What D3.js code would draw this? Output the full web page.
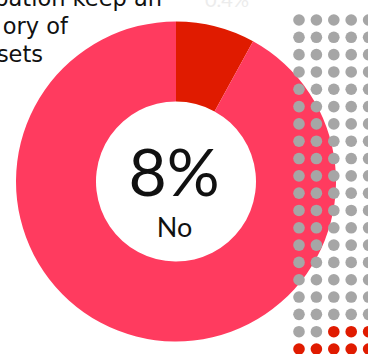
<!DOCTYPE html>
<html>
<head>
<meta charset="utf-8">
<script src="https://cdn.jsdelivr.net/npm/d3@7"></script>
<style>
  html, body { margin: 0; padding: 0; background: #ffffff; overflow: hidden; }
  svg { display: block; }
</style>
</head>
<body>
<svg id="chart" width="368" height="354"></svg>
<script>
// Share of answers
const answerLabels = ["No", "Yes"];
const answerShares = [8, 92];
const answerColors = ["#e01b00", "#ff3b5f"];

// Title lines (the block runs off the left edge)
const titleLines = ["pation keep an", "ory of", "sets"];
const faintLabel = "0.4%";

// Dot grid
const gridCols = 6;
const gridRows = 20;
const dotColors = ["#a6a6a6", "#e01b00"];

const svg = d3.select("#chart");

// ---- title block ----
const titleEnds = [162, 68, 43];
svg.append("g")
  .selectAll("text")
  .data(titleLines)
  .join("text")
  .attr("x", (d, i) => titleEnds[i])
  .attr("y", (d, i) => 6 + i * 28)
  .attr("text-anchor", "end")
  .style("font-family", "'DejaVu Sans', sans-serif")
  .style("font-size", "22.5px")
  .style("fill", "#111111")
  .text(d => d);

svg.append("text")
  .attr("x", 227)
  .attr("y", 7)
  .attr("text-anchor", "middle")
  .style("font-family", "Lato, sans-serif")
  .style("font-size", "20px")
  .style("fill", "#ececec")
  .text(faintLabel);

// ---- donut ----
const cx = 176, cy = 181.5;
const outerR = 160, innerR = 80;

const pie = d3.pie().sort(null).value(d => d);
const arc = d3.arc().innerRadius(innerR).outerRadius(outerR);
const color = d3.scaleOrdinal().domain(answerLabels).range(answerColors);

const donut = svg.append("g").attr("transform", `translate(${cx},${cy})`);
donut.selectAll("path")
  .data(pie(answerShares))
  .join("path")
  .attr("d", arc)
  .attr("fill", (d, i) => color(answerLabels[i]));

donut.append("text")
  .attr("x", -2)
  .attr("y", 14.5)
  .attr("text-anchor", "middle")
  .style("font-family", "Lato, sans-serif")
  .style("font-size", "66px")
  .style("fill", "#111111")
  .text(`${answerShares[0]}%`);

donut.append("text")
  .attr("x", -1.5)
  .attr("y", 55.5)
  .attr("text-anchor", "middle")
  .style("font-family", "Lato, sans-serif")
  .style("font-size", "27px")
  .style("fill", "#111111")
  .text(answerLabels[0]);

// ---- dot grid: highlighted dots fill from the bottom-right ----
const total = gridCols * gridRows;
const redCount = Math.round(total * answerShares[0] / 100);
const dots = d3.range(total).map(i => {
  const row = Math.floor(i / gridCols);
  const col = i % gridCols;
  const fromEnd = total - 1 - (row * gridCols + col);
  return { row, col, hit: fromEnd < redCount };
});

const xDot = d3.scalePoint().domain(d3.range(gridCols)).range([299, 299 + 17.4 * (gridCols - 1)]);
const yDot = d3.scalePoint().domain(d3.range(gridRows)).range([20, 349]);

svg.append("g")
  .selectAll("circle")
  .data(dots)
  .join("circle")
  .attr("cx", d => xDot(d.col))
  .attr("cy", d => yDot(d.row))
  .attr("r", 5.8)
  .attr("fill", d => d.hit ? dotColors[1] : dotColors[0]);
</script>
</body>
</html>
